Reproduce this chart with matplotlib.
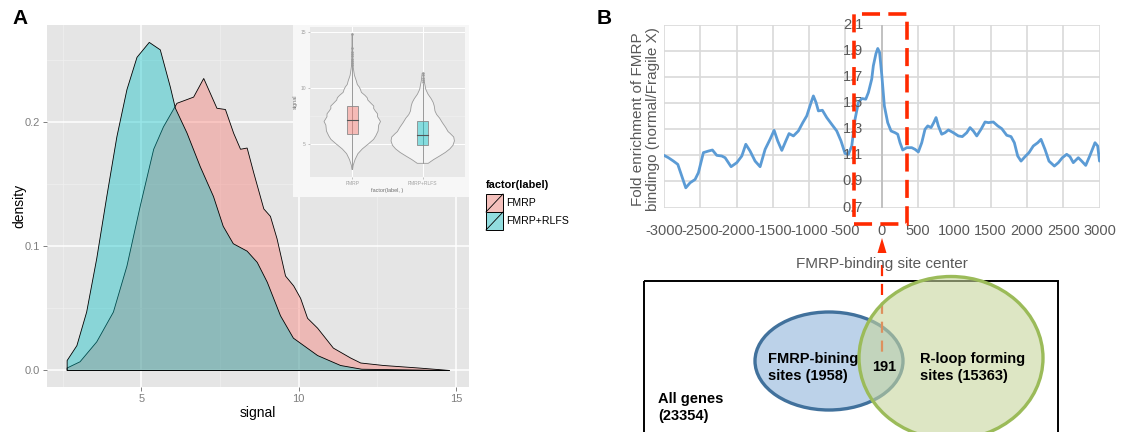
import matplotlib
matplotlib.use("Agg")
import matplotlib.pyplot as plt
from matplotlib.patches import Rectangle, Ellipse, Polygon
from matplotlib.colors import to_rgba
import numpy as np

plt.rcParams['font.family'] = ['Liberation Sans', 'DejaVu Sans']

W, H = 1121, 432

# ---------------- data, panel A (density of signal)
signal_fmrp = [2.64, 3.05, 3.58, 4.11, 4.54, 4.96, 5.39, 5.7, 6.13, 6.45, 6.66, 6.98,
               7.19, 7.4, 7.67, 7.93, 8.15, 8.36, 8.57, 8.89, 9.1, 9.31, 9.58, 9.84,
               10.06, 10.28, 10.6, 11.1, 11.65, 11.97, 12.7, 13.8, 14.8]
dens_fmrp = [0.002, 0.007, 0.023, 0.047, 0.084, 0.132, 0.178, 0.196, 0.215, 0.218, 0.220, 0.235,
             0.223, 0.211, 0.210, 0.191, 0.178, 0.179, 0.159, 0.130, 0.124, 0.106, 0.076, 0.068,
             0.058, 0.042, 0.034, 0.018, 0.010, 0.006, 0.004, 0.002, 0.0]
signal_rlfs = [2.64, 2.95, 3.26, 3.58, 3.9, 4.22, 4.54, 4.86, 5.25, 5.6, 5.92, 6.08, 6.45,
               6.87, 7.29, 7.6, 7.92, 8.36, 8.68, 9.0, 9.42, 9.83, 10.6, 11.33, 12.0, 14.8]
dens_rlfs = [0.008, 0.020, 0.047, 0.090, 0.140, 0.188, 0.226, 0.252, 0.264, 0.258, 0.228, 0.211, 0.191,
             0.164, 0.140, 0.116, 0.102, 0.096, 0.087, 0.071, 0.044, 0.026, 0.012, 0.004, 0.001, 0.0]
groups = ['FMRP', 'FMRP+RLFS']
group_colors = ['#F8766D', '#00BFC4']

# inset violin / boxplot summary
sig_min = [2.7, 3.25]
sig_max = [14.8, 11.3]
box_q1 = [5.88, 4.91]
box_med = [7.12, 5.8]
box_q3 = [8.34, 7.0]
whisk_hi = [11.9, 10.3]
outliers = [[12.0, 12.2, 12.4, 12.6, 12.8, 13.0, 13.2, 13.5, 14.8],
            [10.5, 10.7, 10.9, 11.1, 11.3]]

# ---------------- data, panel B (fold enrichment profile)
pos_bp = [-3000, -2939, -2870, -2810, -2755, -2700, -2640, -2572, -2526, -2457, -2388, -2333,
          -2273, -2204, -2158, -2076, -1997, -1928, -1873, -1814, -1745, -1676, -1607, -1539,
          -1483, -1433, -1377, -1322, -1277, -1217, -1149, -1088, -1033, -974, -942, -905,
          -873, -818, -758, -689, -620, -561, -506, -460, -413, -368, -322, -275, -220,
          -184, -138, -116, -80, -55, -30, 0, 36, 82, 128, 183, 220, 252, 289, 344, 413,
          459, 504, 551, 596, 634, 679, 716, 748, 780, 826, 872, 918, 986, 1055, 1110,
          1171, 1216, 1262, 1309, 1368, 1423, 1469, 1537, 1598, 1653, 1722, 1781, 1827,
          1873, 1919, 1974, 2029, 2088, 2149, 2194, 2249, 2304, 2378, 2433, 2488, 2548,
          2593, 2639, 2708, 2755, 2810, 2869, 2938, 2975, 3000]
fold_enr = [1.10, 1.082, 1.056, 1.031, 0.941, 0.851, 0.89, 0.915, 0.967, 1.121, 1.133, 1.141,
            1.10, 1.095, 1.082, 1.013, 1.044, 1.095, 1.185, 1.133, 1.056, 1.013, 1.146, 1.223,
            1.292, 1.21, 1.138, 1.21, 1.267, 1.249, 1.287, 1.351, 1.403, 1.505, 1.556, 1.505,
            1.441, 1.446, 1.39, 1.338, 1.287, 1.21, 1.115, 1.108, 1.172, 1.377, 1.505, 1.536, 1.531,
            1.582, 1.685, 1.787, 1.88, 1.92, 1.89, 1.72, 1.479, 1.351, 1.287, 1.274, 1.262, 1.197,
            1.141, 1.159, 1.159, 1.146, 1.126, 1.197, 1.30, 1.326, 1.313, 1.351, 1.39, 1.326,
            1.262, 1.274, 1.295, 1.274, 1.249, 1.244, 1.274, 1.313, 1.287, 1.249, 1.30, 1.356,
            1.351, 1.356, 1.326, 1.305, 1.254, 1.244, 1.197, 1.095, 1.056, 1.09, 1.121, 1.172,
            1.197, 1.223, 1.146, 1.056, 1.018, 1.044, 1.082, 1.108, 1.09, 1.044, 1.082, 1.056,
            1.023, 1.10, 1.197, 1.172, 1.056]
x_ticks = list(range(-3000, 3001, 500))
y_ticks = [0.7, 0.9, 1.1, 1.3, 1.5, 1.7, 1.9, 2.1]

# Venn counts
n_all = 23354
n_fmrp = 1958
n_rloop = 15363
n_both = 191

fig = plt.figure(figsize=(W / 100, H / 100), dpi=100)


def px_axes(l, t, r, b):
    return fig.add_axes([l / W, 1 - b / H, (r - l) / W, (b - t) / H])


# ================= panel A =================
ax1 = px_axes(47, 25, 469, 387)
ax1.set_facecolor('#E5E5E5')
ax1.set_xlim(2.0, 15.41)
ax1.set_ylim(-0.0133, 0.278)
ax1.set_xticks([5, 10, 15])
ax1.set_yticks([0.0, 0.1, 0.2])
ax1.set_yticklabels(['0.0', '0.1', '0.2'])
ax1.set_xticks([2.5, 7.5, 12.5], minor=True)
ax1.set_yticks([0.05, 0.15, 0.25], minor=True)
ax1.grid(which='major', color='white', lw=1.1)
ax1.grid(which='minor', color='#F0F0F0', lw=0.5)
ax1.set_axisbelow(True)
ax1.tick_params(which='minor', length=0)
ax1.tick_params(which='major', length=3, color='#7F7F7F', width=0.7,
                labelsize=8, labelcolor='#7F7F7F', pad=2)
for s in ax1.spines.values():
    s.set_visible(False)

for sx, sd, col in [(signal_fmrp, dens_fmrp, group_colors[0]),
                    (signal_rlfs, dens_rlfs, group_colors[1])]:
    xs = np.r_[sx[0], sx, sx[-1]]
    ys = np.r_[0, sd, 0]
    ax1.add_patch(Polygon(np.c_[xs, ys], closed=True, facecolor=to_rgba(col, 0.4),
                          edgecolor='black', lw=0.6, zorder=2))

fig.text(258 / W, 1 - 413 / H, 'signal', ha='center', va='center', fontsize=10)
fig.text(19 / W, 1 - 206 / H, 'density', ha='center', va='center', fontsize=10, rotation=90)

# inset (violin + boxplot)
bg = px_axes(293, 25, 469, 197)
bg.set_facecolor('#F7F7F7')
bg.set_xticks([])
bg.set_yticks([])
for s in bg.spines.values():
    s.set_visible(False)

ai = px_axes(310, 27, 465, 177)
ai.set_facecolor('#E8E8E8')
ai.set_xlim(0.4, 2.6)
ai.set_ylim(2.03, 15.41)
ai.set_xticks([1, 2])
ai.set_xticklabels(groups)
ai.set_yticks([5, 10, 15])
ai.set_yticks([7.5, 12.5], minor=True)
ai.grid(which='major', color='white', lw=0.7)
ai.grid(which='minor', color='#F2F2F2', lw=0.4)
ai.set_axisbelow(True)
ai.tick_params(which='minor', length=0)
ai.tick_params(which='major', length=1.5, color='#AAAAAA', width=0.5,
               labelsize=3.6, labelcolor='#A0A0A0', pad=1.5)
for s in ai.spines.values():
    s.set_visible(False)
ai.set_ylabel('signal', fontsize=4, color='#707070', labelpad=2)
ai.set_xlabel('factor(label, )', fontsize=4, color='#707070', labelpad=1)

dmax = max(max(dens_fmrp), max(dens_rlfs))
for i, (sx, sd) in enumerate([(signal_fmrp, dens_fmrp), (signal_rlfs, dens_rlfs)]):
    sx = np.asarray(sx)
    sd = np.asarray(sd)
    pos = i + 1
    lo, hi = sig_min[i], sig_max[i]
    m = (sx > lo) & (sx < hi)
    yy = np.r_[lo, sx[m], hi]
    ww = np.interp(yy, sx, sd) / dmax * 0.45
    ww = np.maximum(ww, 0.004)
    poly = np.c_[np.r_[pos - ww, (pos + ww)[::-1]], np.r_[yy, yy[::-1]]]
    ai.add_patch(Polygon(poly, closed=True, facecolor='#F4F4F4', edgecolor='#9A9A9A',
                         lw=0.6, zorder=2))
    ai.plot([pos, pos], [lo, whisk_hi[i]], color='#9A9A9A', lw=0.7, zorder=3)
    ai.plot([pos] * len(outliers[i]), outliers[i], 'o', ms=0.8, color='#9A9A9A', zorder=3)
    bw = 0.16
    ai.add_patch(Rectangle((pos - bw / 2, box_q1[i]), bw, box_q3[i] - box_q1[i],
                           facecolor=to_rgba(group_colors[i], 0.45), edgecolor='#8A8A8A',
                           lw=0.6, zorder=4))
    ai.plot([pos - bw / 2, pos + bw / 2], [box_med[i]] * 2, color='#555555', lw=0.8, zorder=5)

# ================= panel B =================
ax2 = px_axes(664, 25, 1099.5, 207.5)
ax2.set_xlim(-3000, 3000)
ax2.set_ylim(0.7, 2.1)
ax2.set_xticks(x_ticks)
ax2.set_xticklabels([str(v) for v in x_ticks])
ax2.set_yticks(y_ticks)
ax2.set_yticklabels([])
ax2.grid(color='#D9D9D9', lw=1.2)
ax2.set_axisbelow(True)
ax2.tick_params(length=0, labelsize=10.5, labelcolor='#595959', pad=12)
for s in ax2.spines.values():
    s.set_visible(False)
ax2.axvline(0, color='#BFBFBF', lw=1.3, zorder=1)
ax2.plot(pos_bp, fold_enr, color='#5B9BD5', lw=2.0, solid_joinstyle='round',
         solid_capstyle='round', zorder=3)
for v in y_ticks:
    ax2.text(-258, v, f'{v:.1f}', ha='right', va='center', fontsize=10.5,
             color='#595959', zorder=4)
ax2.add_patch(Rectangle((-381, 0.577), 729, 2.185 - 0.577, fill=False, edgecolor='#FF2A00',
                        lw=2.6, linestyle=(0, (5, 2.3)), clip_on=False, zorder=6))

fig.text(645.5 / W, 1 - 119 / H, 'Fold enrichment of FMRP\nbindingo (normal/Fragile X)',
         ha='center', va='center', rotation=90, fontsize=11, color='#595959',
         multialignment='center', linespacing=1.15)
fig.text(881.7 / W, 1 - 264 / H, 'FMRP-binding site center', ha='center', va='center',
         fontsize=11, color='#595959')

# ================= overlay: legend, Venn, letters =================
ov = fig.add_axes([0, 0, 1, 1])
ov.set_xlim(0, W)
ov.set_ylim(H, 0)
ov.axis('off')
ov.patch.set_alpha(0)

# legend for panel A
ov.text(485.5, 185, 'factor(label)', fontsize=7.9, fontweight='bold', va='center', ha='left')
for k, (lab, col) in enumerate(zip(groups, group_colors)):
    y0 = 194 + 18 * k
    ov.add_patch(Rectangle((486, y0), 17, 18, facecolor='#F2F2F2', edgecolor='none'))
    ov.add_patch(Rectangle((486, y0), 17, 18, facecolor=to_rgba(col, 0.4),
                           edgecolor='black', lw=0.7))
    ov.plot([486, 503], [y0 + 18, y0], color='black', lw=0.6)
    ov.text(506.5, y0 + 9.5, lab, fontsize=7.6, va='center', ha='left')

# Venn diagram
ov.add_patch(Rectangle((644, 281), 414, 200, fill=False, edgecolor='black', lw=1.4))
ov.add_patch(Ellipse((829, 361), 148, 98, facecolor='#BCD2E9', edgecolor='#41719C',
                     lw=2.4, zorder=1))
ov.plot([882, 882], [265, 353], color='#FF2A00', lw=1.6, linestyle=(0, (5, 3.5)), zorder=2)
ov.add_patch(Polygon([(882, 238), (877.5, 253), (886.5, 253)], closed=True,
                     facecolor='#FF2A00', edgecolor='none', zorder=2))
ov.add_patch(Ellipse((951, 358), 184, 163, facecolor=(0.78, 0.84, 0.62, 0.6),
                     edgecolor='#9BBB59', lw=2.4, zorder=3))
ov.text(768, 367.5, f'FMRP-bining\nsites ({n_fmrp})', ha='left', va='center', fontsize=10.5,
        fontweight='bold', linespacing=1.25, zorder=5)
ov.text(884, 367, f'{n_both}', ha='center', va='center', fontsize=10.5,
        fontweight='bold', zorder=5)
ov.text(920, 367.5, f'R-loop forming\nsites ({n_rloop})', ha='left', va='center',
        fontsize=10.5, fontweight='bold', linespacing=1.25, zorder=5)
ov.text(658, 407.5, f'All genes\n({n_all})', ha='left', va='center', fontsize=10.5,
        fontweight='bold', linespacing=1.25, zorder=5)

# panel letters
ov.text(12, 18, 'A', fontsize=15, fontweight='bold', ha='left', va='center')
ov.text(597, 18, 'B', fontsize=15, fontweight='bold', ha='left', va='center')

fig.savefig('out.png', dpi=100)
